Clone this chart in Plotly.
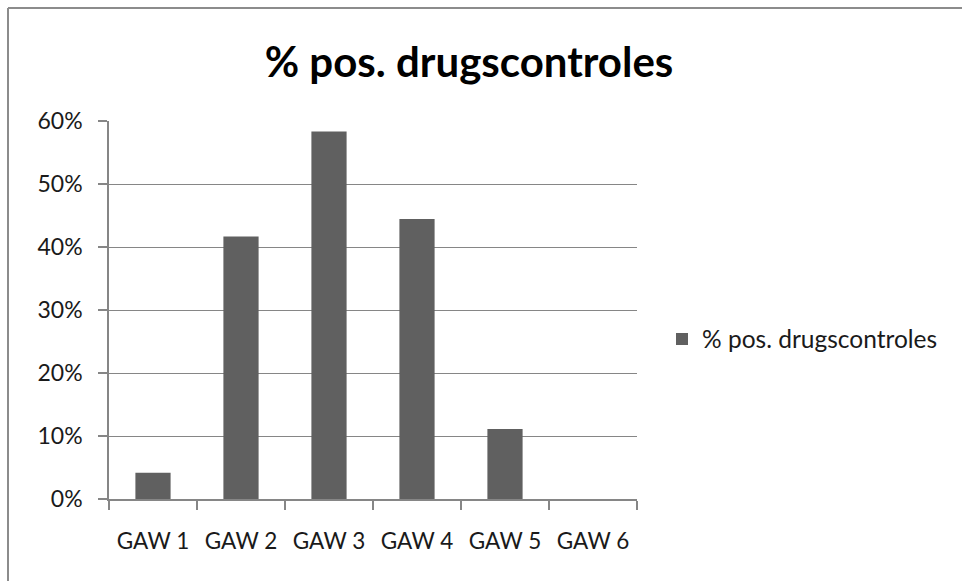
import plotly.graph_objects as go

# Share of positive drug controls per GAW edition
categories = ["GAW 1", "GAW 2", "GAW 3", "GAW 4", "GAW 5", "GAW 6"]
pct_positive = [0.0417, 0.4167, 0.5833, 0.4444, 0.1111, 0.0]
series_name = "% pos. drugscontroles"
chart_title = "% pos. drugscontroles"

BAR = "#606060"
AXIS = "#868686"
FONT = "Lato"
TXT = "#1a1a1a"

W, H = 962, 581
L, R, T, B = 109, 325, 121, 82
pw, ph = W - L - R, H - T - B

fig = go.Figure()
fig.add_trace(go.Bar(
    x=categories, y=pct_positive, name=series_name,
    marker=dict(color=BAR, line=dict(width=0)),
    showlegend=True,
))

# outer chart frame (left and top edges visible)
fx = (8 - L) / pw
fy = (H - B - 8) / ph
fig.add_shape(type="line", xref="paper", yref="paper",
              x0=fx, x1=fx, y0=fy, y1=-1, line=dict(color="#8c8c8c", width=2))
fig.add_shape(type="line", xref="paper", yref="paper",
              x0=fx, x1=2, y0=fy, y1=fy, line=dict(color="#8c8c8c", width=2))

fig.update_layout(
    width=W, height=H,
    margin=dict(l=L, r=R, t=T, b=B),
    paper_bgcolor="white", plot_bgcolor="white",
    bargap=0.6,
    font=dict(family=FONT, color=TXT, size=22),
    title=dict(text="<b>" + chart_title + "</b>", x=(469 - L) / pw, xref="paper",
               xanchor="center", y=1 - 62 / H, yanchor="middle",
               font=dict(family=FONT, size=42, color="black")),
    legend=dict(x=(662 - L) / pw, y=(H - B - 339) / ph, xanchor="left",
                yanchor="middle", font=dict(family=FONT, size=24.5, color=TXT),
                bgcolor="rgba(0,0,0,0)"),
    xaxis=dict(
        type="category", showline=True, linecolor=AXIS, linewidth=2,
        ticks="outside", tickson="boundaries", ticklen=9, tickcolor=AXIS,
        tickwidth=1.5, ticklabelstandoff=21, showgrid=False, zeroline=False,
        tickfont=dict(family=FONT, size=22.5, color=TXT),
    ),
    yaxis=dict(
        range=[0, 0.6], dtick=0.1, tickformat=".0%",
        showline=True, linecolor=AXIS, linewidth=1.5,
        ticks="outside", ticklen=9, tickcolor=AXIS, tickwidth=1.5,
        ticklabelstandoff=11,
        showgrid=True, gridcolor=AXIS, gridwidth=1.3, zeroline=False,
        tickfont=dict(family=FONT, size=23, color=TXT),
    ),
)

fig.write_html("out.html")
